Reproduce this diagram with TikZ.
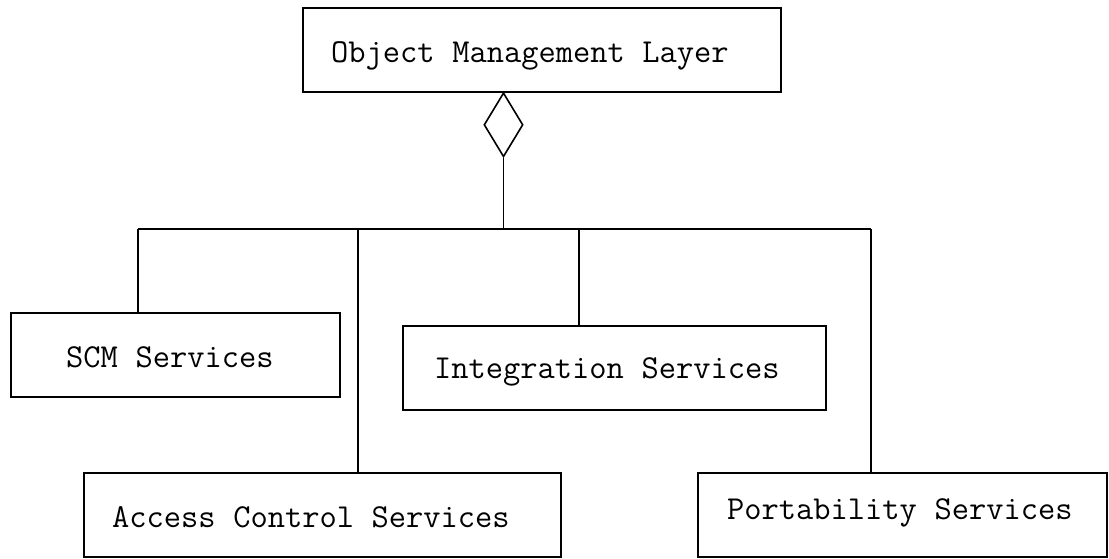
\documentclass[tikz,border=0pt]{standalone}
\usepackage{fontspec}
\usetikzlibrary{shapes.geometric}
\newcommand\captionfontsetup{\ttfamily\fontsize{33.5}{40}\selectfont\spaceskip 17.6pt\relax}
\tikzset{
  layerbox/.style={draw, line width=1.6pt, rectangle, inner sep=0pt},
  boxlabel/.style={anchor=base west, inner sep=0pt, font=\captionfontsetup},
  aggdiamond/.style={draw, line width=1.6pt, diamond, inner sep=0pt,
    minimum width=39pt, minimum height=64pt},
  link/.style={line width=1.6pt}
}
\begin{document}
\begin{tikzpicture}[x=1pt,y=-1pt]
  \useasboundingbox[fill=white] (0,0) rectangle (1109,559);

  % layer boxes
  \node[layerbox, minimum width=478pt, minimum height=84pt] (oml)   at (542,50)    {};
  \node[layerbox, minimum width=329pt, minimum height=84pt] (scm)   at (175.5,355) {};
  \node[layerbox, minimum width=423pt, minimum height=84pt] (integ) at (614.5,368) {};
  \node[layerbox, minimum width=477pt, minimum height=84pt] (acc)   at (322.5,515) {};
  \node[layerbox, minimum width=409pt, minimum height=84pt] (port)  at (902.5,515) {};

  % box captions
  \node[boxlabel] (omlT)   at (331,63)  {Object Management Layer};
  \node[boxlabel] (scmT)   at (66,367)  {SCM Services};
  \node[boxlabel] (integT) at (434,378) {Integration Services};
  \node[boxlabel] (accT)   at (112,527) {Access Control Services};
  \node[boxlabel] (portT)  at (727,519) {Portability Services};

  % aggregation diamond under the top layer
  \node[aggdiamond, anchor=north] (agg) at (503.5,92) {};

  % bus joints
  \coordinate (hub) at (503.5,229);
  \coordinate (jscm) at (138,229);
  \coordinate (jacc) at (358,229);
  \coordinate (jint) at (579,229);
  \coordinate (jport) at (871,229);

  \draw[link] (agg.south) -- (hub);
  \draw[link] (jscm) -- (jport);
  \draw[link] (jscm) -- (jscm |- scm.north);
  \draw[link] (jacc) -- (jacc |- acc.north);
  \draw[link] (jint) -- (jint |- integ.north);
  \draw[link] (jport) -- (jport |- port.north);
\end{tikzpicture}
\end{document}
